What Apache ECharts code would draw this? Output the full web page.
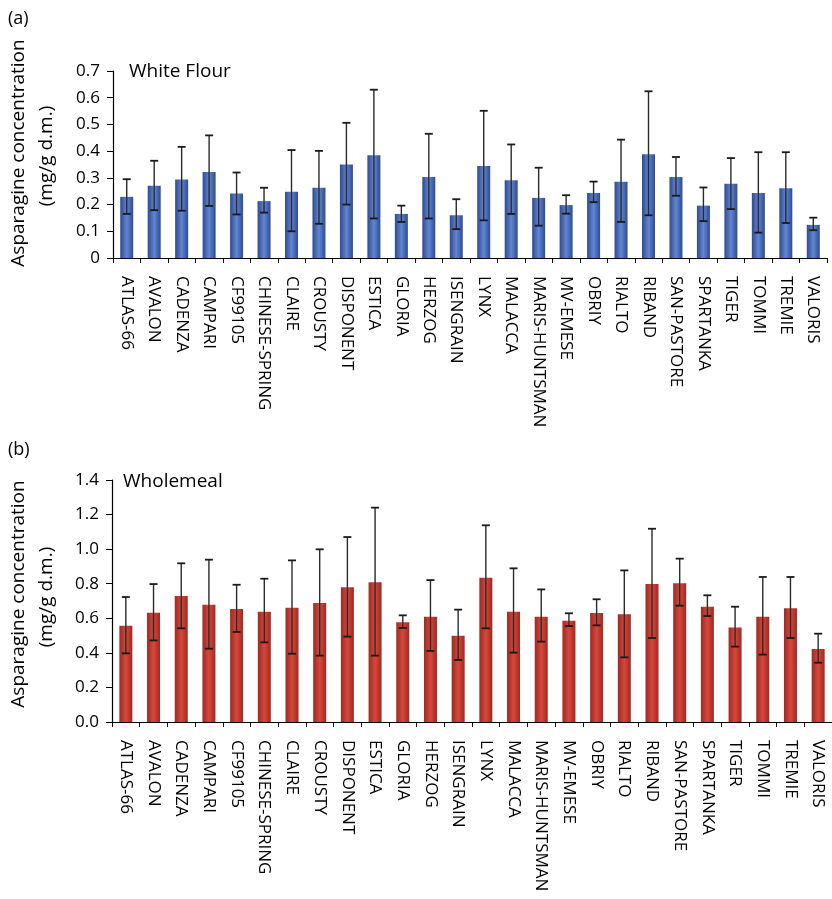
<!DOCTYPE html>
<html>
<head>
<meta charset="utf-8">
<script src="https://cdn.jsdelivr.net/npm/echarts@6/dist/echarts.min.js"></script>
<style>html,body{margin:0;padding:0;background:#fff}#c{width:832px;height:899px}</style>
</head>
<body>
<div id="c"></div>
<script>
var categories = ['ATLAS-66','AVALON','CADENZA','CAMPARI','CF99105','CHINESE-SPRING','CLAIRE','CROUSTY','DISPONENT','ESTICA','GLORIA','HERZOG','ISENGRAIN','LYNX','MALACCA','MARIS-HUNTSMAN','MV-EMESE','OBRIY','RIALTO','RIBAND','SAN-PASTORE','SPARTANKA','TIGER','TOMMI','TREMIE','VALORIS'];

var whiteMean = [0.229,0.270,0.294,0.322,0.241,0.213,0.248,0.263,0.350,0.385,0.165,0.303,0.160,0.344,0.291,0.225,0.198,0.243,0.285,0.388,0.303,0.196,0.278,0.243,0.261,0.124];
var whiteLow  = [0.165,0.179,0.177,0.195,0.163,0.170,0.100,0.128,0.200,0.148,0.135,0.148,0.108,0.141,0.165,0.121,0.166,0.209,0.135,0.160,0.233,0.138,0.183,0.095,0.131,0.104];
var whiteHigh = [0.295,0.364,0.416,0.459,0.320,0.263,0.404,0.401,0.506,0.630,0.196,0.465,0.220,0.551,0.425,0.338,0.235,0.286,0.443,0.624,0.378,0.264,0.374,0.396,0.396,0.151];

var wholeMean = [0.557,0.632,0.729,0.679,0.654,0.638,0.661,0.688,0.779,0.808,0.577,0.609,0.499,0.835,0.638,0.609,0.586,0.631,0.623,0.798,0.802,0.667,0.546,0.609,0.658,0.422];
var wholeLow  = [0.397,0.472,0.542,0.424,0.521,0.461,0.395,0.384,0.494,0.384,0.544,0.411,0.359,0.542,0.401,0.465,0.555,0.559,0.374,0.486,0.673,0.613,0.436,0.390,0.486,0.343];
var wholeHigh = [0.723,0.798,0.918,0.939,0.794,0.829,0.935,0.999,1.070,1.240,0.617,0.821,0.650,1.138,0.889,0.767,0.629,0.710,0.877,1.118,0.945,0.733,0.667,0.839,0.839,0.511];

var whiteTicks = {min: 0, max: 0.7, interval: 0.1};
var wholeTicks = {min: 0, max: 1.4, interval: 0.2};

var FONT = '"Open Sans", sans-serif';

function errData(low, high) {
  return categories.map(function (c, i) { return [i, low[i], high[i]]; });
}
function errRender(params, api) {
  var i = api.value(0);
  var lo = api.coord([i, api.value(1)]);
  var hi = api.coord([i, api.value(2)]);
  var cap = 4;
  var st = {stroke: '#2a2a2a', lineWidth: 1.4};
  return {
    type: 'group',
    children: [
      {type: 'line', shape: {x1: lo[0], y1: lo[1], x2: hi[0], y2: hi[1]}, style: st},
      {type: 'line', shape: {x1: hi[0] - cap, y1: hi[1], x2: hi[0] + cap, y2: hi[1]}, style: {stroke: '#1a1a1a', lineWidth: 1.8}},
      {type: 'line', shape: {x1: lo[0] - cap, y1: lo[1], x2: lo[0] + cap, y2: lo[1]}, style: {stroke: '#1a1a1a', lineWidth: 1.8}}
    ]
  };
}
function grad(edge, mid) {
  return new echarts.graphic.LinearGradient(0, 0, 1, 0, [
    {offset: 0, color: edge}, {offset: 0.5, color: mid}, {offset: 1, color: edge}
  ]);
}
function xAx(gi, margin) {
  return {
    type: 'category', gridIndex: gi, data: categories,
    axisLine: {lineStyle: {color: '#000', width: 1.2}},
    axisTick: {show: true, inside: false, length: 5, lineStyle: {color: '#000'}},
    axisLabel: {rotate: -90, interval: 0, margin: margin, fontSize: 17, color: '#000', fontFamily: FONT}
  };
}
function yAx(gi, t, fmt) {
  return {
    type: 'value', gridIndex: gi, min: t.min, max: t.max, interval: t.interval,
    splitLine: {show: false},
    axisLine: {show: true, lineStyle: {color: '#000', width: 1.2}},
    axisTick: {show: true, inside: false, length: 6, lineStyle: {color: '#000'}},
    axisLabel: {fontSize: 17, color: '#000', margin: 13, fontFamily: FONT, formatter: fmt}
  };
}

var chart = echarts.init(document.getElementById('c'));
chart.setOption({
  backgroundColor: '#fff',
  animation: false,
  grid: [
    {left: 113, right: 5, top: 71, height: 187},
    {left: 112, right: -4, top: 480, height: 242}
  ],
  xAxis: [xAx(0, 18), xAx(1, 18)],
  yAxis: [
    yAx(0, whiteTicks, function (v) { return v === 0 ? '0' : v.toFixed(1); }),
    yAx(1, wholeTicks, function (v) { return v.toFixed(1); })
  ],
  series: [
    {type: 'bar', xAxisIndex: 0, yAxisIndex: 0, data: whiteMean, barWidth: 13,
      itemStyle: {color: grad('#2f4a90', '#6186d2')}},
    {type: 'custom', xAxisIndex: 0, yAxisIndex: 0, data: errData(whiteLow, whiteHigh), renderItem: errRender, z: 5,
      encode: {x: 0, y: [1, 2]}},
    {type: 'bar', xAxisIndex: 1, yAxisIndex: 1, data: wholeMean, barWidth: 13,
      itemStyle: {color: grad('#9c2a22', '#d8473b')}},
    {type: 'custom', xAxisIndex: 1, yAxisIndex: 1, data: errData(wholeLow, wholeHigh), renderItem: errRender, z: 5,
      encode: {x: 0, y: [1, 2]}}
  ],
  graphic: [
    {type: 'text', left: 8, top: 10, style: {text: '(a)', fontSize: 18, fill: '#000', fontFamily: FONT}},
    {type: 'text', left: 8, top: 441, style: {text: '(b)', fontSize: 18, fill: '#000', fontFamily: FONT}},
    {type: 'text', x: 129, y: 72, style: {text: 'White Flour', fontSize: 19, fill: '#000', fontFamily: FONT, verticalAlign: 'middle'}},
    {type: 'text', x: 123, y: 482, style: {text: 'Wholemeal', fontSize: 19, fill: '#000', fontFamily: FONT, verticalAlign: 'middle'}},
    {type: 'text', x: 19, y: 153, rotation: Math.PI / 2, style: {text: 'Asparagine concentration', fontSize: 19, fill: '#000', fontFamily: FONT, align: 'center', verticalAlign: 'middle'}},
    {type: 'text', x: 47, y: 156, rotation: Math.PI / 2, style: {text: '(mg/g d.m.)', fontSize: 19, fill: '#000', fontFamily: FONT, align: 'center', verticalAlign: 'middle'}},
    {type: 'text', x: 19, y: 594, rotation: Math.PI / 2, style: {text: 'Asparagine concentration', fontSize: 19, fill: '#000', fontFamily: FONT, align: 'center', verticalAlign: 'middle'}},
    {type: 'text', x: 47, y: 597, rotation: Math.PI / 2, style: {text: '(mg/g d.m.)', fontSize: 19, fill: '#000', fontFamily: FONT, align: 'center', verticalAlign: 'middle'}}
  ]
});
</script>
</body>
</html>
